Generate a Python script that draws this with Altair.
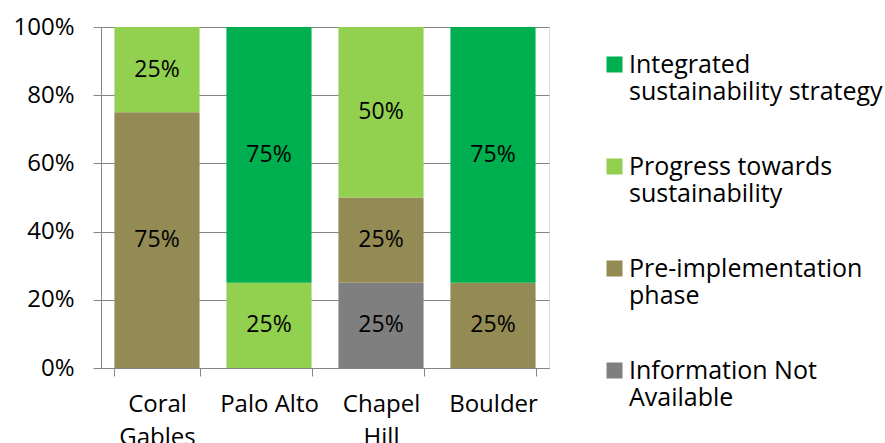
import altair as alt
import pandas as pd

cities = ["Coral Gables", "Palo Alto", "Chapel Hill", "Boulder"]
categories = [
    "Integrated sustainability strategy",
    "Progress towards sustainability",
    "Pre-implementation phase",
    "Information Not Available",
]
colors = ["#00B050", "#92D050", "#948A54", "#7F7F7F"]
stack_rank = [3, 2, 1, 0]  # bottom-to-top order

integrated = [0.00, 0.75, 0.00, 0.75]
progress = [0.25, 0.25, 0.50, 0.00]
pre_impl = [0.75, 0.00, 0.25, 0.25]
info_na = [0.00, 0.00, 0.25, 0.00]

y_ticks = [0, 0.2, 0.4, 0.6, 0.8, 1.0]

series = [integrated, progress, pre_impl, info_na]
rows = []
for ci, cat in enumerate(categories):
    for i, city in enumerate(cities):
        v = series[ci][i]
        if v > 0:
            rows.append({"city": city, "category": cat, "value": v, "rank": stack_rank[ci]})
df = pd.DataFrame(rows)

FONT = "Open Sans"
FS = 23

base = alt.Chart(df).transform_stack(
    stack="value", groupby=["city"], as_=["y0", "y1"], sort=[{"field": "rank", "order": "ascending"}]
).transform_calculate(mid="(datum.y0 + datum.y1) / 2")

x_enc = alt.X(
    "city:N",
    sort=cities,
    scale=alt.Scale(paddingInner=0.24, paddingOuter=0.12),
    axis=alt.Axis(
        title=None,
        labelAngle=0,
        labelExpr="datum.label == 'Coral Gables' ? ['Coral', 'Gables'] : datum.label == 'Chapel Hill' ? ['Chapel', 'Hill'] : datum.label",
        labelFont=FONT,
        labelFontSize=24,
        labelColor="#000000",
        labelLineHeight=33,
        labelPadding=16,
        tickBand="extent",
        tickSize=8,
        tickColor="#868686",
        domainColor="#868686",
        grid=False,
        labelBaseline="top",
    ),
)

legend_expr = (
    "datum.label == 'Integrated sustainability strategy' ? ['Integrated', 'sustainability strategy'] : "
    "datum.label == 'Progress towards sustainability' ? ['Progress towards', 'sustainability'] : "
    "datum.label == 'Pre-implementation phase' ? ['Pre-implementation', 'phase'] : "
    "['Information Not', 'Available']"
)

bars = base.mark_bar().encode(
    x=x_enc,
    y=alt.Y(
        "y1:Q",
        scale=alt.Scale(domain=[0, 1], nice=False),
        axis=alt.Axis(
            title=None,
            format=".0%",
            values=y_ticks,
            labelFont=FONT,
            labelFontSize=24,
            labelColor="#000000",
            labelPadding=19,
            tickSize=8,
            tickColor="#868686",
            domainColor="#868686",
            gridColor="#868686",
            grid=True,
        ),
    ),
    y2="y0:Q",
    color=alt.Color(
        "category:N",
        scale=alt.Scale(domain=categories, range=colors),
        legend=alt.Legend(
            title=None,
            orient="none",
            legendX=501,
            legendY=25,
            padding=0,
            symbolType="square",
            symbolSize=256,
            symbolStrokeWidth=0,
            symbolOpacity=1,
            labelFont=FONT,
            labelFontSize=25,
            labelColor="#000000",
            labelOffset=2,
            labelLimit=400,
            labelBaseline="middle",
            labelExpr=legend_expr,
            rowPadding=49,
        ),
    ),
    order=alt.Order("rank:Q"),
)

labels = base.mark_text(font=FONT, fontSize=FS, color="#000000").encode(
    x=alt.X("city:N", sort=cities),
    y=alt.Y("mid:Q"),
    text=alt.Text("value:Q", format=".0%"),
)

chart = (
    alt.layer(bars, labels)
    .properties(
        width=448,
        height=341,
        autosize=alt.AutoSizeParams(type="none"),
        padding={"left": 101, "top": 27, "right": 336, "bottom": 75},
    )
    .configure_view(stroke=None)
    .configure(background="#ffffff")
)

chart.save("out.html", embed_options={"renderer": "svg", "actions": False})
